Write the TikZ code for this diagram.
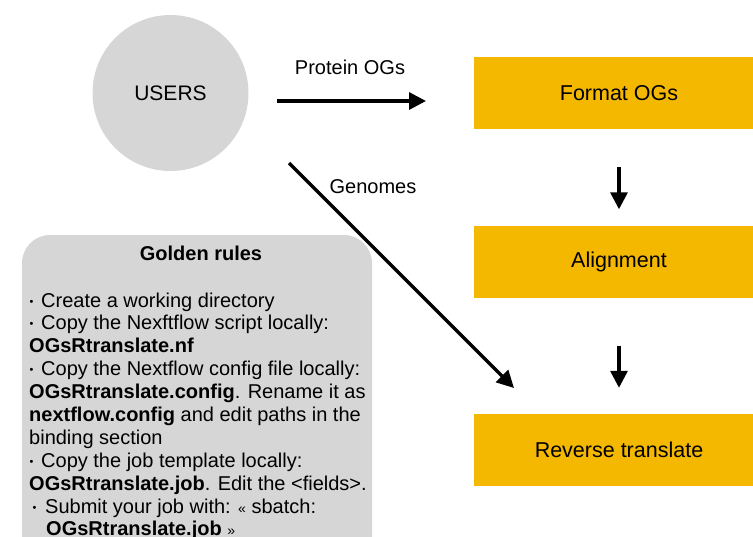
\documentclass[tikz,border=0pt]{standalone}
\usepackage{fontspec}
\setmainfont{Liberation Sans}
\usetikzlibrary{arrows.meta}
\definecolor{stepyellow}{HTML}{F5B800}
\definecolor{panelgray}{HTML}{D6D6D6}
% small list bullet followed by a fixed gap
\newcommand{\rulebul}[1]{\makebox[#1][l]{\hspace{0.5pt}\raisebox{2pt}{\fontsize{11}{11}\selectfont•}}}
\tikzset{
  stepbox/.style={fill=stepyellow, draw=none, minimum width=290pt, minimum height=72pt,
    inner sep=0pt, font=\fontsize{21.5}{25}\selectfont},
  flow/.style={line width=3.2pt, -{Triangle[length=17pt,width=17pt]}},
  lbl/.style={font=\fontsize{20}{24}\selectfont, inner sep=0pt},
  rule/.style={font=\fontsize{20}{24}\selectfont, inner sep=0pt, anchor=base west},
}
\begin{document}
\begin{tikzpicture}[x=1pt,y=-1pt]
\useasboundingbox (0,0) rectangle (753,536);
\clip (0,0) rectangle (753,536);

% users
\node[circle, fill=panelgray, minimum size=156pt, inner sep=0pt] (users) at (170.5,93) {};
\node[font=\fontsize{21}{25}\selectfont, inner sep=0pt] (userstxt) at (users.center) {USERS};

% pipeline steps
\node[stepbox] (fmt) at (619,93) {Format OGs};
\node[stepbox] (aln) at (619,261.5) {Alignment};
\node[stepbox] (rev) at (619,450) {Reverse translate};

% connectors
\coordinate (pA) at (277,101);
\coordinate (pB) at (426,101);
\coordinate (gA) at (289,163);
\coordinate (gB) at (514,388);
\draw[flow] (pA) -- (pB);
\draw[flow] (gA) -- (gB);
\draw[flow, shorten <=38pt, shorten >=16pt] (fmt.south) -- (aln.north);
\draw[flow, shorten <=48pt, shorten >=26pt] (aln.south) -- (rev.north);
\node[lbl] (protlbl) at (350,67) {Protein OGs};
\node[lbl] (genlbl) at (373,187) {Genomes};

% golden rules panel
\fill[panelgray, rounded corners=28pt] (22,235) rectangle (372,580);
\node[font=\bfseries\fontsize{20}{24}\selectfont, inner sep=0pt, anchor=base] (grhead) at (201,260) {Golden rules};
\node[rule] (r1) at (29,307) {\rulebul{12pt}Create a working directory};
\node[rule] (r2) at (29,329.9) {\rulebul{12pt}Copy the Nexftflow script locally:};
\node[rule] (r3) at (29,352.8) {\bfseries OGsRtranslate.nf};
\node[rule] (r4) at (29,375.7) {\rulebul{12pt}Copy the Nextflow config file locally:};
\node[rule] (r5) at (29,398.6) {\textbf{OGsRtranslate.config}. Rename it as};
\node[rule] (r6) at (29,421.5) {\textbf{nextflow.config} and edit paths in the};
\node[rule] (r7) at (29,444.4) {binding section};
\node[rule] (r8) at (29,467.3) {\rulebul{12pt}Copy the job template locally:};
\node[rule] (r9) at (29,490.2) {\textbf{OGsRtranslate.job}. Edit the <fields>.};
\node[rule] (r10) at (32,513.1) {\rulebul{13pt}Submit your job with: {\fontsize{14}{16}\selectfont«} sbatch:};
\node[rule] (r11) at (46,535.5) {\textbf{OGsRtranslate.job} {\fontsize{14}{16}\selectfont»}};
\end{tikzpicture}
\end{document}
